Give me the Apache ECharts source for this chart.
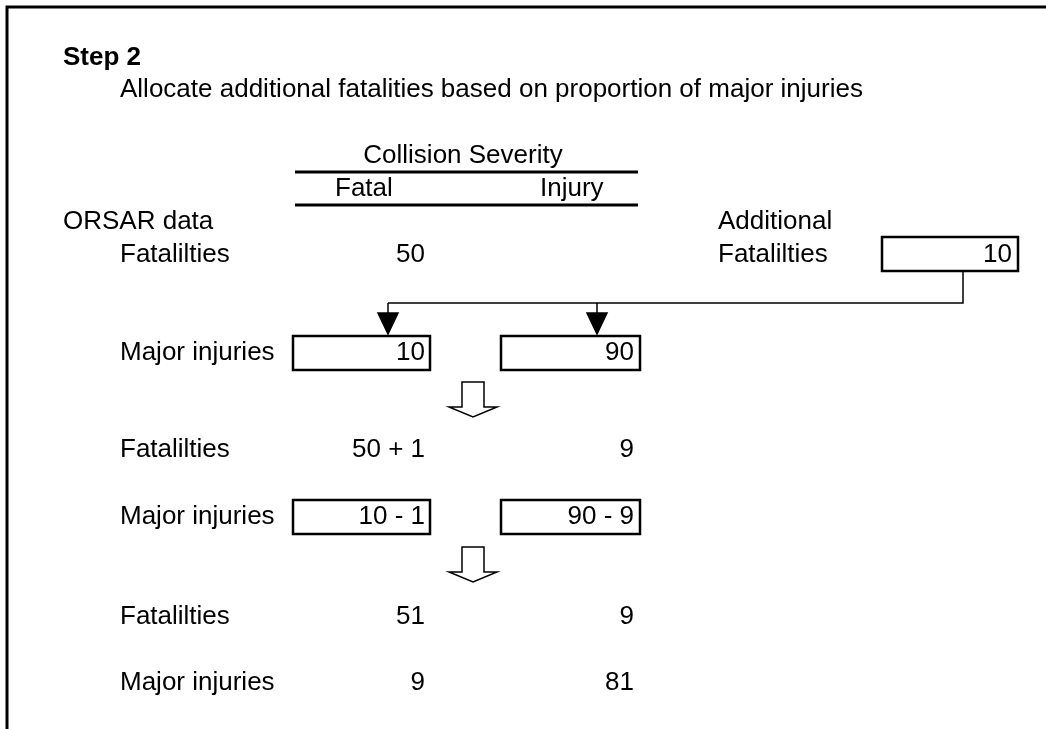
<!DOCTYPE html>
<html style="height: 100%; margin: 0;">
<head>
<meta charset="utf-8" />
<title></title>
<script src="https://cdn.jsdelivr.net/npm/echarts@6/dist/echarts.min.js"></script>
</head>
<body style="height: 100%; margin: 0; background: #fff;">
<div id="main" style="width: 1046px; height: 729px;"></div>
<script type="text/javascript">
// texts and values of the diagram
var stepTitle = 'Step 2';
var stepText = 'Allocate additional fatalities based on proportion of major injuries';
var headerTitle = 'Collision Severity';
var columnNames = ['Fatal', 'Injury'];
var sourceLabel = 'ORSAR data';
var extraLabels = ['Additional', 'Fatalilties'];
var extraValue = '10';
var rowLabels = ['Fatalilties', 'Major injuries', 'Fatalilties', 'Major injuries', 'Fatalilties', 'Major injuries'];
var fatalValues = ['50', '10', '50 + 1', '10 - 1', '51', '9'];
var injuryValues = ['', '90', '9', '90 - 9', '9', '81'];
var boxedRows = [false, true, false, true, false, false];

// layout, in pixel units of the hidden axes
var rowY = [255, 353, 450, 517, 617, 683];
var labelX = 120;
var fatalRight = 425, injuryRight = 634;
var boxFatal = [293, 430], boxInjury = [501, 640];
var boxH = 34;
var FONT = '26px "Liberation Sans", Arial, sans-serif';
var BOLD = 'bold 26px "Liberation Sans", Arial, sans-serif';

var myChart = echarts.init(document.getElementById('main'));

function txt(api, x, y, s, align, font) {
    var p = api.coord([x, y]);
    return {
        type: 'text',
        style: { x: p[0], y: p[1], text: s, font: font || FONT, fill: '#000', align: align || 'left', verticalAlign: 'middle' }
    };
}
function box(api, x0, x1, yc) {
    var a = api.coord([x0, yc - boxH / 2]);
    var b = api.coord([x1, yc + boxH / 2]);
    return {
        type: 'rect',
        shape: { x: a[0], y: a[1], width: b[0] - a[0], height: b[1] - a[1] },
        style: { fill: '#fff', stroke: '#000', lineWidth: 2.5 }
    };
}
function line(api, pts, w) {
    return {
        type: 'polyline',
        shape: { points: pts.map(function (q) { return api.coord(q); }) },
        style: { fill: null, stroke: '#000', lineWidth: w }
    };
}
function poly(api, pts, fill) {
    return {
        type: 'polygon',
        shape: { points: pts.map(function (q) { return api.coord(q); }) },
        style: { fill: fill, stroke: '#000', lineWidth: 1.5 }
    };
}
function hollowArrow(api, cx, top) {
    return poly(api, [[cx - 11, top], [cx + 11, top], [cx + 11, top + 25], [cx + 24, top + 25],
        [cx, top + 35], [cx - 24, top + 25], [cx - 11, top + 25]], '#fff');
}

function renderRow(params, api) {
    var i = params.dataIndex;
    var y = rowY[i];
    var kids = [txt(api, labelX, y, rowLabels[i])];
    if (boxedRows[i]) {
        kids.push(box(api, boxFatal[0], boxFatal[1], y));
        kids.push(box(api, boxInjury[0], boxInjury[1], y));
    }
    kids.push(txt(api, fatalRight, y, fatalValues[i], 'right'));
    if (injuryValues[i]) kids.push(txt(api, injuryRight, y, injuryValues[i], 'right'));
    return { type: 'group', children: kids };
}

function renderFrame(params, api) {
    var kids = [];
    kids.push(line(api, [[7, 800], [7, 7], [1100, 7]], 3));
    kids.push(txt(api, 63, 58, stepTitle, 'left', BOLD));
    kids.push(txt(api, 120, 90, stepText));
    kids.push(txt(api, 463, 156, headerTitle, 'center'));
    kids.push(line(api, [[295, 172], [638, 172]], 3));
    kids.push(txt(api, 335, 189, columnNames[0]));
    kids.push(txt(api, 540, 189, columnNames[1]));
    kids.push(line(api, [[295, 205], [638, 205]], 3));
    kids.push(txt(api, 63, 222, sourceLabel));
    kids.push(txt(api, 718, 222, extraLabels[0]));
    kids.push(txt(api, 718, 255, extraLabels[1]));
    kids.push(box(api, 882, 1018, 254));
    kids.push(txt(api, 1012, 255, extraValue, 'right'));
    // connector from the additional fatalities to both columns
    kids.push(line(api, [[963, 271], [963, 303], [388, 303]], 1.5));
    [388, 597].forEach(function (x) {
        kids.push(line(api, [[x, 303], [x, 314]], 1.5));
        kids.push(poly(api, [[x - 10, 313], [x + 10, 313], [x, 334]], '#000'));
    });
    kids.push(hollowArrow(api, 473, 382));
    kids.push(hollowArrow(api, 473, 547));
    return { type: 'group', children: kids };
}

myChart.setOption({
    animation: false,
    grid: { left: 0, right: 0, top: 0, bottom: 0 },
    xAxis: { type: 'value', min: 0, max: 1046, show: false },
    yAxis: { type: 'value', min: 0, max: 729, inverse: true, show: false },
    series: [{
        type: 'custom',
        renderItem: renderFrame,
        data: [[0, 0]],
        z: 1
    }, {
        type: 'custom',
        renderItem: renderRow,
        data: rowLabels.map(function (l, i) { return [labelX, rowY[i]]; }),
        z: 2
    }]
});
window.onresize = myChart.resize;
</script>
</body>
</html>
